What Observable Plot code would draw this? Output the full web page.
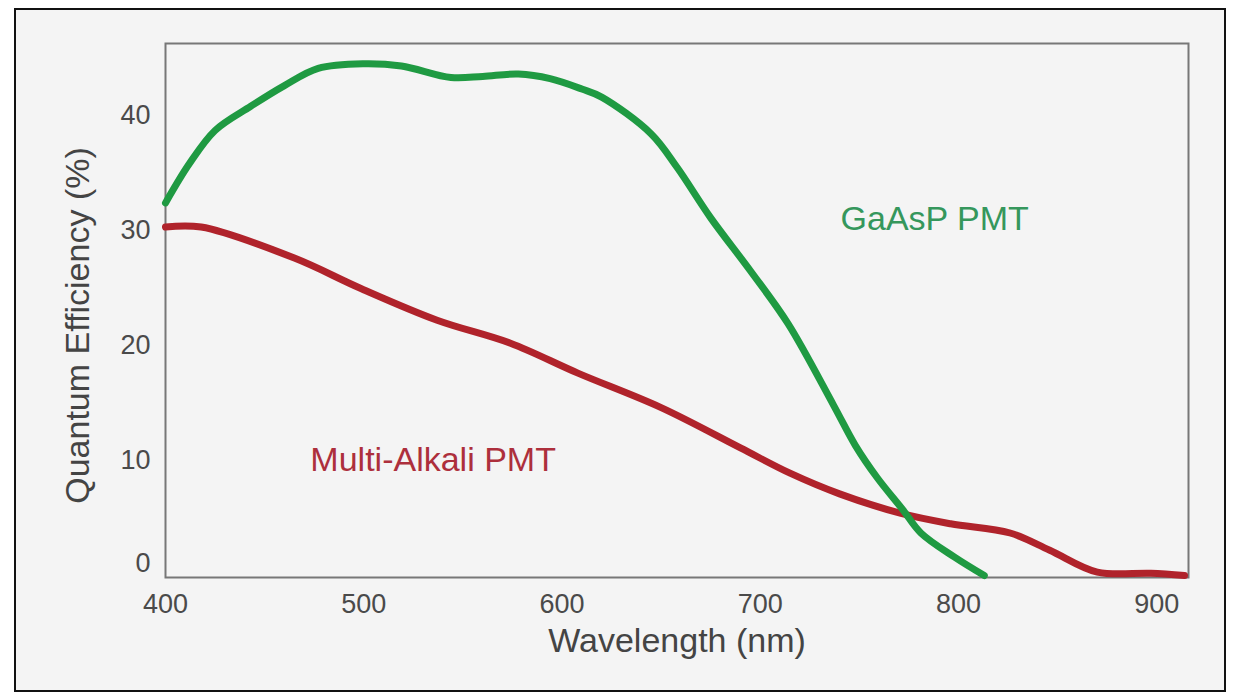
<!DOCTYPE html>
<html>
<head>
<meta charset="utf-8">
<script src="https://cdn.jsdelivr.net/npm/d3@7"></script>
<script src="https://cdn.jsdelivr.net/npm/@observablehq/plot@0.6"></script>
<style>
  html, body { margin: 0; padding: 0; background: #ffffff; }
  #frame { position: absolute; left: 14px; top: 8px; width: 1212px; height: 684px; box-sizing: border-box; border: 2px solid #111; background: #f4f4f4; }
  #chart { position: absolute; left: 0; top: 0; }
</style>
</head>
<body>
<div id="frame"></div>
<div id="chart"></div>
<script>
// Wavelength (nm) / quantum efficiency (%)
const gaaspWavelength = [400, 412, 425, 443, 460, 477, 500, 519, 544, 560, 578, 594, 610, 620, 645, 658, 675, 695, 714, 737, 748, 759, 772, 781, 798, 813];
const gaaspQE         = [32.4, 35.8, 38.7, 40.8, 42.6, 44.1, 44.5, 44.3, 43.3, 43.4, 43.6, 43.2, 42.3, 41.6, 38.4, 35.5, 31.1, 26.5, 21.9, 14.8, 11.3, 8.5, 5.7, 3.7, 1.6, 0.0];

const alkaliWavelength = [400, 418, 465, 498, 537, 574, 608, 650, 690, 715, 740, 771, 796, 826, 846, 870, 897, 914];
const alkaliQE         = [30.3, 30.3, 27.6, 25.0, 22.2, 20.2, 17.6, 14.6, 11.1, 8.9, 7.1, 5.4, 4.5, 3.7, 2.2, 0.3, 0.2, 0.0];

const xTicks = [400, 500, 600, 700, 800, 900];
const yTicks = [10, 20, 30, 40];
const yZeroTick = [0];

const seriesLabels = [
  {name: "GaAsP PMT", wavelength: 788, qe: 31.0, color: "#35975c"},
  {name: "Multi-Alkali PMT", wavelength: 535, qe: 10.0, color: "#ad2f3c"}
];

const gaasp = gaaspWavelength.map((w, i) => ({wavelength: w, qe: gaaspQE[i]}));
const alkali = alkaliWavelength.map((w, i) => ({wavelength: w, qe: alkaliQE[i]}));

const font = "'Liberation Sans', Arial, Helvetica, sans-serif";

const chart = Plot.plot({
  width: 1237,
  height: 696,
  marginLeft: 165,
  marginRight: 49,
  marginTop: 43,
  marginBottom: 119,
  style: {background: "transparent", fontFamily: font, color: "#555"},
  x: {domain: [400, 916]},
  y: {domain: [-0.17, 46.26]},
  marks: [
    Plot.frame({stroke: "#777", strokeWidth: 2}),
    Plot.axisX({ticks: xTicks, tickSize: 0, tickPadding: 16, fontSize: 27, label: null, fill: "#4a4a4a"}),
    Plot.axisY({ticks: yTicks, tickSize: 0, tickPadding: 15, fontSize: 27, label: null, fill: "#4a4a4a"}),
    Plot.axisY({ticks: yZeroTick, tickSize: 0, tickPadding: 15, fontSize: 27, label: null, fill: "#4a4a4a", dy: -12}),
    Plot.line(alkali, {x: "wavelength", y: "qe", stroke: "#b0232b", strokeWidth: 7, curve: "catmull-rom"}),
    Plot.line(gaasp, {x: "wavelength", y: "qe", stroke: "#1f9a42", strokeWidth: 7, curve: "catmull-rom"}),
    Plot.text(seriesLabels, {x: "wavelength", y: "qe", text: "name", fill: "color", fontSize: 34}),
    Plot.text(["Wavelength (nm)"], {frameAnchor: "bottom", textAnchor: "middle", lineAnchor: "middle", dy: 64, fontSize: 34, fill: "#444"}),
    Plot.text(["Quantum Efficiency (%)"], {frameAnchor: "left", textAnchor: "middle", lineAnchor: "middle", rotate: -90, dx: -87, dy: 15, fontSize: 34, fill: "#444"})
  ]
});
document.getElementById("chart").append(chart);
</script>
</body>
</html>
